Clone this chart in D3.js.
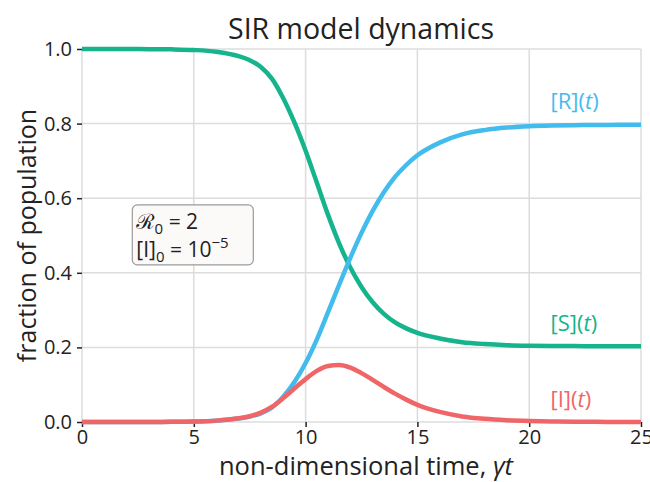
<!DOCTYPE html>
<html>
<head>
<meta charset="utf-8">
<script src="https://cdn.jsdelivr.net/npm/d3@7"></script>
<style>
  body { margin: 0; background: #fff; }
  text { font-family: "Open Sans", "Noto Sans", sans-serif; }
</style>
</head>
<body>
<div id="chart"></div>
<script>
// values
const time = [0, 1, 2, 3, 4, 5, 6, 7, 7.5, 8, 8.5, 9, 9.5, 10, 10.5, 11, 11.5, 12,
  12.5, 13, 13.5, 14, 14.5, 15, 16, 17, 18, 19, 20, 21, 22, 23, 24, 25];
const susceptible = [1, 1, 0.9999, 0.9996, 0.999, 0.9973, 0.9927, 0.981, 0.97, 0.952,
  0.92, 0.868, 0.803, 0.727, 0.642, 0.556, 0.479, 0.414, 0.362, 0.321, 0.29, 0.267,
  0.251, 0.239, 0.224, 0.214, 0.209, 0.206, 0.2045, 0.2038, 0.2035, 0.2033, 0.2032, 0.2032];
const infected = [0.00001, 0.00003, 0.00007, 0.0002, 0.0005, 0.0014, 0.0037, 0.0098,
  0.0155, 0.025, 0.041, 0.064, 0.09, 0.115, 0.137, 0.15, 0.153, 0.146, 0.131, 0.113,
  0.094, 0.076, 0.06, 0.046, 0.027, 0.015, 0.0085, 0.0047, 0.0026, 0.0014, 0.0008,
  0.0004, 0.0002, 0.0001];
const recovered = [0, 0.00002, 0.00006, 0.00017, 0.0005, 0.0013, 0.0036, 0.0092,
  0.0145, 0.023, 0.039, 0.068, 0.107, 0.158, 0.221, 0.294, 0.368, 0.44, 0.507, 0.566,
  0.616, 0.657, 0.689, 0.715, 0.749, 0.771, 0.7825, 0.7893, 0.7929, 0.7948, 0.7957,
  0.7963, 0.7966, 0.7967];
const xTicks = [0, 5, 10, 15, 20, 25];
const yTicks = [0, 0.2, 0.4, 0.6, 0.8, 1.0];

const series = [
  { name: "S", values: susceptible, color: "#15b48c", labelAt: 0.245 },
  { name: "R", values: recovered, color: "#42bcec", labelAt: 0.84 },
  { name: "I", values: infected, color: "#f06668", labelAt: 0.04 },
];

const width = 650;
const height = 482;
const margin = { top: 49, right: 9, bottom: 60, left: 82 };

const svg = d3
  .select("#chart")
  .append("svg")
  .attr("width", width)
  .attr("height", height);

const x = d3.scaleLinear().domain([0, 25]).range([margin.left, width - margin.right]);
const y = d3.scaleLinear().domain([0, 1]).range([height - margin.bottom, margin.top]);

// grid
svg
  .append("g")
  .selectAll("line")
  .data(xTicks)
  .enter()
  .append("line")
  .attr("x1", (d) => x(d))
  .attr("x2", (d) => x(d))
  .attr("y1", y(0))
  .attr("y2", y(1))
  .attr("stroke", "#dcdcdc")
  .attr("stroke-width", 1.5);

svg
  .append("g")
  .selectAll("line")
  .data(yTicks)
  .enter()
  .append("line")
  .attr("x1", x(0))
  .attr("x2", x(25))
  .attr("y1", (d) => y(d))
  .attr("y2", (d) => y(d))
  .attr("stroke", "#dcdcdc")
  .attr("stroke-width", 1.5);

// axes
const xAxis = svg
  .append("g")
  .attr("transform", "translate(0," + y(0) + ")")
  .call(d3.axisBottom(x).tickValues(xTicks).tickSize(5).tickPadding(3).tickFormat(d3.format("d")));

const yAxis = svg
  .append("g")
  .attr("transform", "translate(" + x(0) + ",0)")
  .call(d3.axisLeft(y).tickValues(yTicks).tickSize(5).tickPadding(5).tickFormat(d3.format(".1f")));

for (let a of [xAxis, yAxis]) {
  a.select(".domain").remove();
  a.selectAll(".tick line").attr("stroke", "#222").attr("stroke-width", 1.5);
  a.selectAll(".tick text")
    .attr("fill", "#222")
    .style("font-size", "20px")
    .style("font-family", '"Open Sans", sans-serif');
}

// curves
const line = d3
  .line()
  .x((d) => x(d[0]))
  .y((d) => y(d[1]))
  .curve(d3.curveMonotoneX);

svg
  .append("g")
  .selectAll("path")
  .data(series)
  .enter()
  .append("path")
  .attr("d", (s) => line(time.map((t, i) => [t, s.values[i]])))
  .attr("fill", "none")
  .attr("stroke", (s) => s.color)
  .attr("stroke-width", 4.5);

// curve labels
const labels = svg
  .append("g")
  .selectAll("text")
  .data(series)
  .enter()
  .append("text")
  .attr("x", x(20.95))
  .attr("y", (s) => y(s.labelAt))
  .attr("fill", (s) => s.color)
  .style("font-size", "22px");
labels.append("tspan").text((s) => "[" + s.name + "](");
labels.append("tspan").attr("font-style", "italic").text("t");
labels.append("tspan").text(")");

// parameter box
const box = svg.append("g").attr("transform", "translate(" + x(2.25) + "," + y(0.582) + ")");
box
  .append("rect")
  .attr("width", 121)
  .attr("height", 60)
  .attr("rx", 5)
  .attr("fill", "#fcf9f9")
  .attr("stroke", "#9a9a9a")
  .attr("stroke-width", 1.2);

const t1 = box.append("text").attr("x", 4).attr("y", 24).attr("fill", "#222").style("font-size", "21px");
t1.append("tspan").text("ℛ");
t1.append("tspan").attr("dy", 5).style("font-size", "15px").text("0");
t1.append("tspan").attr("dy", -5).text(" = 2");

const t2 = box.append("text").attr("x", 4).attr("y", 52).attr("fill", "#222").style("font-size", "21px");
t2.append("tspan").text("[I]");
t2.append("tspan").attr("dy", 5).style("font-size", "15px").text("0");
t2.append("tspan").attr("dy", -5).text(" = 10");
t2.append("tspan").attr("dy", -9).style("font-size", "15px").text("−5");

// titles
svg
  .append("text")
  .attr("x", 361)
  .attr("y", 39)
  .attr("text-anchor", "middle")
  .attr("fill", "#222")
  .style("font-size", "28.5px")
  .text("SIR model dynamics");

const xl = svg
  .append("text")
  .attr("x", 366)
  .attr("y", 475)
  .attr("text-anchor", "middle")
  .attr("fill", "#222")
  .style("font-size", "25.5px");
xl.append("tspan").text("non-dimensional time, ");
xl.append("tspan").attr("font-style", "italic").text("γt");

svg
  .append("text")
  .attr("transform", "translate(36," + y(0.5) + ") rotate(-90)")
  .attr("text-anchor", "middle")
  .attr("fill", "#222")
  .style("font-size", "25px")
  .text("fraction of population");
</script>
</body>
</html>
